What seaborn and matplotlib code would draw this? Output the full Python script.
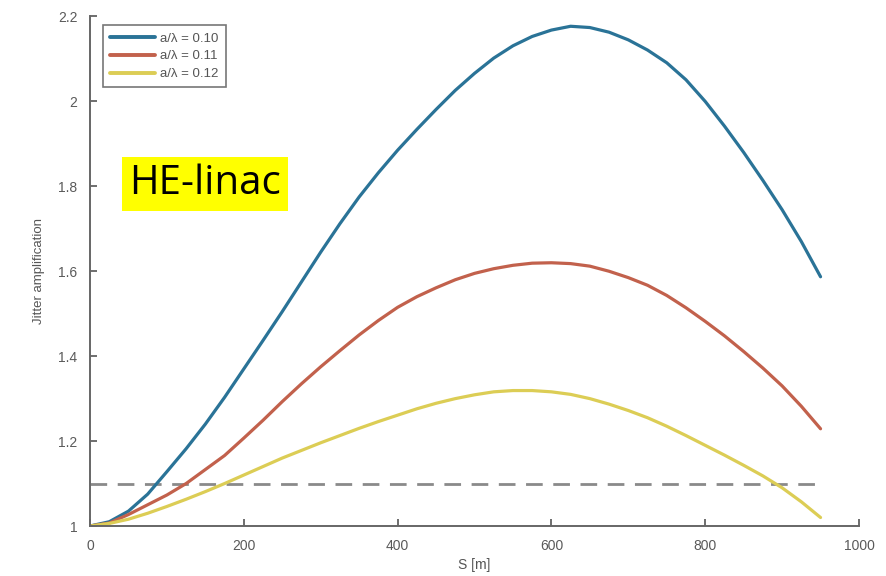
import numpy as np
import pandas as pd
import matplotlib
matplotlib.use("Agg")
import matplotlib.pyplot as plt
import seaborn as sns

# ---- data ----
s_pos = [0, 25, 50, 75, 100, 125, 150, 175, 200, 225, 250, 275, 300, 325, 350, 375, 400, 425, 450, 475,
         500, 525, 550, 575, 600, 625, 650, 675, 700, 725, 750, 775, 800, 825, 850, 875, 900, 925, 950]

v_blue = [1.0, 1.01, 1.035, 1.075, 1.128, 1.182, 1.24, 1.303, 1.37, 1.437, 1.505, 1.575, 1.645, 1.712,
          1.775, 1.832, 1.885, 1.934, 1.981, 2.026, 2.066, 2.102, 2.131, 2.153, 2.168, 2.177, 2.174, 2.163,
          2.145, 2.121, 2.091, 2.051, 2.0, 1.942, 1.88, 1.814, 1.745, 1.67, 1.587]

v_red = [1.0, 1.007, 1.027, 1.05, 1.073, 1.1, 1.133, 1.166, 1.207, 1.249, 1.293, 1.335, 1.375, 1.413,
         1.45, 1.484, 1.515, 1.54, 1.561, 1.58, 1.595, 1.606, 1.614, 1.619, 1.62, 1.618, 1.612, 1.6,
         1.585, 1.567, 1.543, 1.514, 1.482, 1.448, 1.411, 1.372, 1.33, 1.282, 1.229]

v_yel = [1.0, 1.006, 1.016, 1.03, 1.046, 1.063, 1.081, 1.1, 1.12, 1.14, 1.16, 1.178, 1.196, 1.213,
         1.23, 1.246, 1.261, 1.276, 1.289, 1.3, 1.309, 1.316, 1.319, 1.319, 1.316, 1.31, 1.3, 1.287,
         1.272, 1.255, 1.235, 1.213, 1.19, 1.167, 1.143, 1.118, 1.09, 1.057, 1.02]

series_labels = ["a/λ = 0.10", "a/λ = 0.11", "a/λ = 0.12"]
series_colors = ["#2a7397", "#c2614c", "#dccd55"]

dash_x = [0, 950]
dash_y = [1.1, 1.1]

x_ticks = [0, 200, 400, 600, 800, 1000]
y_ticks = [1, 1.2, 1.4, 1.6, 1.8, 2, 2.2]
y_ticklabels = ["1", "1.2", "1.4", "1.6", "1.8", "2", "2.2"]

# ---- build long-form table ----
frames = []
for v, lab in zip([v_blue, v_red, v_yel], series_labels):
    frames.append(pd.DataFrame({"S": s_pos, "J": v, "series": lab}))
df = pd.concat(frames, ignore_index=True)

sns.set_theme(style="white")
plt.rcParams["font.family"] = ["Liberation Sans", "DejaVu Sans"]

fig = plt.figure(figsize=(8.87, 5.76), dpi=100)
ax = fig.add_axes([90 / 887, 50 / 576, 769 / 887, 509.5 / 576])

sns.lineplot(data=df, x="S", y="J", hue="series", hue_order=series_labels,
             palette=series_colors, linewidth=2.3, ax=ax, sort=False)
ax.plot(dash_x, dash_y, color="#8a8a8a", linewidth=2.0, linestyle=(0, (6, 3.8)), zorder=1)

ax.set_xlim(0, 1000)
ax.set_ylim(1, 2.2)
ax.set_xticks(x_ticks)
ax.set_yticks(y_ticks)
ax.set_yticklabels(y_ticklabels)

for side in ["top", "right"]:
    ax.spines[side].set_visible(False)
for side in ["left", "bottom"]:
    ax.spines[side].set_color("#666666")
    ax.spines[side].set_linewidth(1.4)

ax.tick_params(axis="both", direction="in", length=5, width=1.2, color="#555555",
               labelsize=10, labelcolor="#5a5a5a", pad=9, left=True, bottom=True)

ax.set_xlabel("S [m]", fontsize=10, color="#555555", labelpad=4)
ax.set_ylabel("Jitter amplification", fontsize=9.5, color="#555555", labelpad=9)

leg = ax.legend(loc="upper left", bbox_to_anchor=(0.017, 0.983), borderaxespad=0,
                fontsize=9.5, handlelength=3.4, handletextpad=0.4, labelspacing=0.42,
                borderpad=0.55, frameon=True, fancybox=False, framealpha=1)
leg.get_frame().set_edgecolor("#777777")
leg.get_frame().set_linewidth(1.2)
for t in leg.get_texts():
    t.set_color("#555555")
for h in leg.get_lines():
    h.set_linewidth(2.8)

fig.text(129 / 887, 1 - 184 / 576, "HE-linac", fontsize=29, family=["Open Sans", "DejaVu Sans"],
         color="black", ha="left", va="center",
         bbox=dict(facecolor="#ffff00", edgecolor="none", pad=5))

fig.savefig("out.png", dpi=100)
